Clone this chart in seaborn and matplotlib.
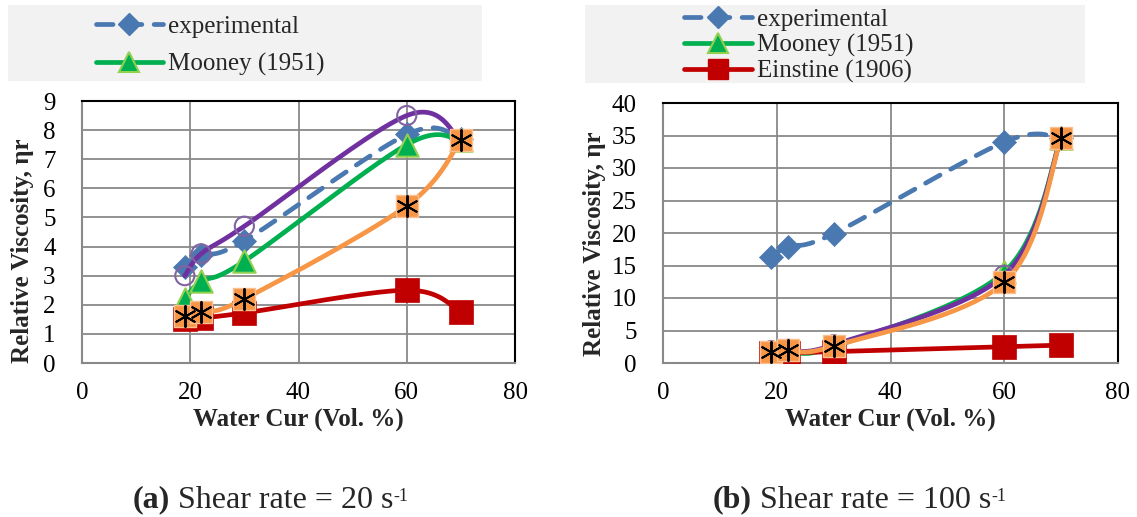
import numpy as np
import pandas as pd
import matplotlib
matplotlib.use("Agg")
import matplotlib.pyplot as plt
from matplotlib.lines import Line2D
from matplotlib.patches import Rectangle
import seaborn as sns

# ---- data -------------------------------------------------------------
water_cut = [19, 22, 30, 60, 70]

# shear rate 20 1/s
exp_20 = [3.3, 3.7, 4.2, 7.85, 7.7]
mooney_20 = [2.2, 2.8, 3.5, 7.5, 7.65]
einstein_20 = [1.5, 1.55, 1.72, 2.5, 1.75]
purple_20 = [3.0, 3.75, 4.7, 8.5, 7.65]
orange_20 = [1.6, 1.75, 2.2, 5.4, 7.65]

# shear rate 100 1/s
exp_100 = [16.3, 17.9, 19.9, 34.0, 34.6]
mooney_100 = [1.7, 1.9, 2.5, 14.0, 34.6]
einstein_100 = [1.5, 1.55, 1.75, 2.5, 2.75]
purple_100 = [1.9, 2.1, 2.8, 13.5, 34.6]
orange_100 = [1.75, 2.0, 2.6, 12.4, 34.6]

x_ticks = [0, 20, 40, 60, 80]
y_ticks_a = list(range(0, 10))
y_ticks_b = list(range(0, 45, 5))

legend_a = ["experimental", "Mooney (1951)"]
legend_b = ["experimental", "Mooney (1951)", "Einstine (1906)"]
x_label = "Water Cur (Vol. %)"
y_label = "Relative Viscosity, \u03b7r"
captions = [("(a)", " Shear rate = 20 s"), ("(b)", " Shear rate = 100 s")]
caption_sup = "-1"

# ---- style -------------------------------------------------------------
sns.set_theme(style="white")
plt.rcParams["font.family"] = ["Liberation Serif", "DejaVu Serif"]

BLUE = "#4A78B0"
GREEN = "#00B050"
GREEN_EDGE = "#92D050"
RED = "#C00000"
PURPLE = "#7030A0"
PURPLE_MK = "#8064A2"
ORANGE = "#F79646"
ORANGE_EDGE = "#FAC090"
GRID = "#898989"
LW = 3.4
FS = 18


def smooth(xs, ys, n=40):
    """Excel-style smoothed line: cubic Bezier segments (Catmull-Rom tangents)."""
    p = np.column_stack([xs, ys]).astype(float)
    ext = np.vstack([p[0], p, p[-1]])
    out = []
    t = np.linspace(0, 1, n)[:, None]
    for i in range(len(p) - 1):
        p0, p3 = ext[i + 1], ext[i + 2]
        c1 = p0 + (ext[i + 2] - ext[i]) / 6.0
        c2 = p3 - (ext[i + 3] - ext[i + 1]) / 6.0
        seg = ((1 - t) ** 3) * p0 + 3 * ((1 - t) ** 2) * t * c1 + 3 * (1 - t) * t ** 2 * c2 + t ** 3 * p3
        out.append(seg if i == 0 else seg[1:])
    out = np.vstack(out)
    return pd.DataFrame({"x": out[:, 0], "y": out[:, 1]})


def draw_series(ax, ys, color, z, dashed=False):
    df = smooth(water_cut, ys)
    sns.lineplot(data=df, x="x", y="y", ax=ax, sort=False, estimator=None,
                 color=color, lw=LW, zorder=z, legend=False)
    line = ax.lines[-1]
    line.set_solid_capstyle("round")
    if dashed:
        line.set_dashes((3.5, 2.6))
        line.set_dash_capstyle("round")


def draw_panel(ax, exp, moon, ein, pur, ora, yticks, ylabel_xy):
    pts = pd.DataFrame({"x": water_cut})
    # experimental
    draw_series(ax, exp, BLUE, 2, dashed=True)
    sns.scatterplot(x=pts["x"], y=exp, ax=ax, marker="D", s=150, color=BLUE,
                    edgecolor=BLUE, linewidth=0.5, zorder=2.1, legend=False)
    # Mooney
    draw_series(ax, moon, GREEN, 3)
    sns.scatterplot(x=pts["x"], y=moon, ax=ax, marker="^", s=260, color=GREEN,
                    edgecolor=GREEN_EDGE, linewidth=1.5, zorder=3.1, legend=False)
    # Einstein
    draw_series(ax, ein, RED, 4)
    sns.scatterplot(x=pts["x"], y=ein, ax=ax, marker="s", s=300, color=RED,
                    edgecolor=RED, linewidth=0.5, zorder=4.1, legend=False)
    # purple model
    draw_series(ax, pur, PURPLE, 5)
    sns.scatterplot(x=pts["x"], y=pur, ax=ax, marker="o", s=190, facecolor="none",
                    edgecolor=PURPLE_MK, linewidth=1.5, zorder=5.1, legend=False)
    # orange model
    draw_series(ax, ora, ORANGE, 6)
    sns.scatterplot(x=pts["x"], y=ora, ax=ax, marker="s", s=240, color=ORANGE,
                    edgecolor=ORANGE_EDGE, linewidth=1.0, zorder=6.1, legend=False)
    sns.scatterplot(x=pts["x"], y=ora, ax=ax, marker=(6, 2, 0), s=230, color="black",
                    edgecolor="black", linewidth=1.4, zorder=6.2, legend=False)

    ax.set_xlim(0, 80)
    ax.set_ylim(yticks[0], yticks[-1])
    ax.set_xticks(x_ticks)
    ax.set_yticks(yticks)
    ax.grid(True, color=GRID, lw=1.3)
    ax.set_axisbelow(True)
    for side in ("left", "bottom"):
        ax.spines[side].set_color(GRID)
        ax.spines[side].set_linewidth(1.5)
    for side in ("top", "right"):
        ax.spines[side].set_color("black")
        ax.spines[side].set_linewidth(1.5)
    ax.tick_params(axis="both", direction="out", length=5, width=1.3, color=GRID,
                   labelsize=FS, labelcolor="black")
    ax.tick_params(axis="x", pad=9)
    ax.tick_params(axis="y", pad=14)
    ax.set_xlabel(x_label, fontsize=FS, fontweight="bold", labelpad=2)
    ax.set_ylabel(y_label, fontsize=FS, fontweight="bold", va="center")
    ax.yaxis.set_label_coords(*ylabel_xy)


W, H = 1137, 517
fig = plt.figure(figsize=(W / 100, H / 100), dpi=100)
fig.patch.set_facecolor("white")


def fbox(x0, y0, x1, y1):
    return [x0 / W, 1 - y1 / H, (x1 - x0) / W, (y1 - y0) / H]


ax_a = fig.add_axes(fbox(82, 101, 515, 363))
ax_b = fig.add_axes(fbox(663, 103, 1118, 363))

draw_panel(ax_a, exp_20, mooney_20, einstein_20, purple_20, orange_20, y_ticks_a,
           ((22 - 82) / 433, 0.43))
draw_panel(ax_b, exp_100, mooney_100, einstein_100, purple_100, orange_100, y_ticks_b,
           ((595 - 663) / 455, 0.46))


def legend_handles(n):
    h = [
        Line2D([], [], color=BLUE, lw=LW, dashes=(3.5, 2.6), dash_capstyle="round",
               marker="D", ms=11, mfc=BLUE, mec=BLUE),
        Line2D([], [], color=GREEN, lw=LW, solid_capstyle="round",
               marker="^", ms=14, mfc=GREEN, mec=GREEN_EDGE, mew=1.5),
        Line2D([], [], color=RED, lw=LW, solid_capstyle="round",
               marker="s", ms=15, mfc=RED, mec=RED),
    ]
    return h[:n]


# legend panels
fig.add_artist(Rectangle((8 / W, 1 - 81 / H), (482 - 8) / W, 76 / H,
                         transform=fig.transFigure, facecolor="#F2F2F2",
                         edgecolor="none", zorder=0))
fig.add_artist(Rectangle((585 / W, 1 - 83 / H), (1085 - 585) / W, 78 / H,
                         transform=fig.transFigure, facecolor="#F2F2F2",
                         edgecolor="none", zorder=0))

fig.legend(legend_handles(2), legend_a, loc="upper left",
           bbox_to_anchor=(78 / W, 1 + 2 / H), frameon=False, fontsize=FS,
           handlelength=2.7, handletextpad=0.2, labelspacing=0.6, borderpad=0.2)
fig.legend(legend_handles(3), legend_b, loc="upper left",
           bbox_to_anchor=(667 / W, 1 + 9 / H), frameon=False, fontsize=FS,
           handlelength=2.7, handletextpad=0.2, labelspacing=0.12, borderpad=0.2)

# panel captions
cap_fs = 23
for (tag, body), x0 in zip(captions, (133, 713)):
    t_tag = fig.text(x0 / W, 1 - 500 / H, tag, fontsize=cap_fs, fontweight="bold",
                     va="center", ha="left")
    t_body = plt.annotate(body, xy=(1, 0.5), xycoords=t_tag, va="center",
                          ha="left", fontsize=cap_fs, annotation_clip=False)
    plt.annotate(caption_sup, xy=(1, 0.93), xycoords=t_body, va="top",
                 ha="left", fontsize=13, annotation_clip=False)

fig.savefig("out.png", dpi=100, facecolor="white")
